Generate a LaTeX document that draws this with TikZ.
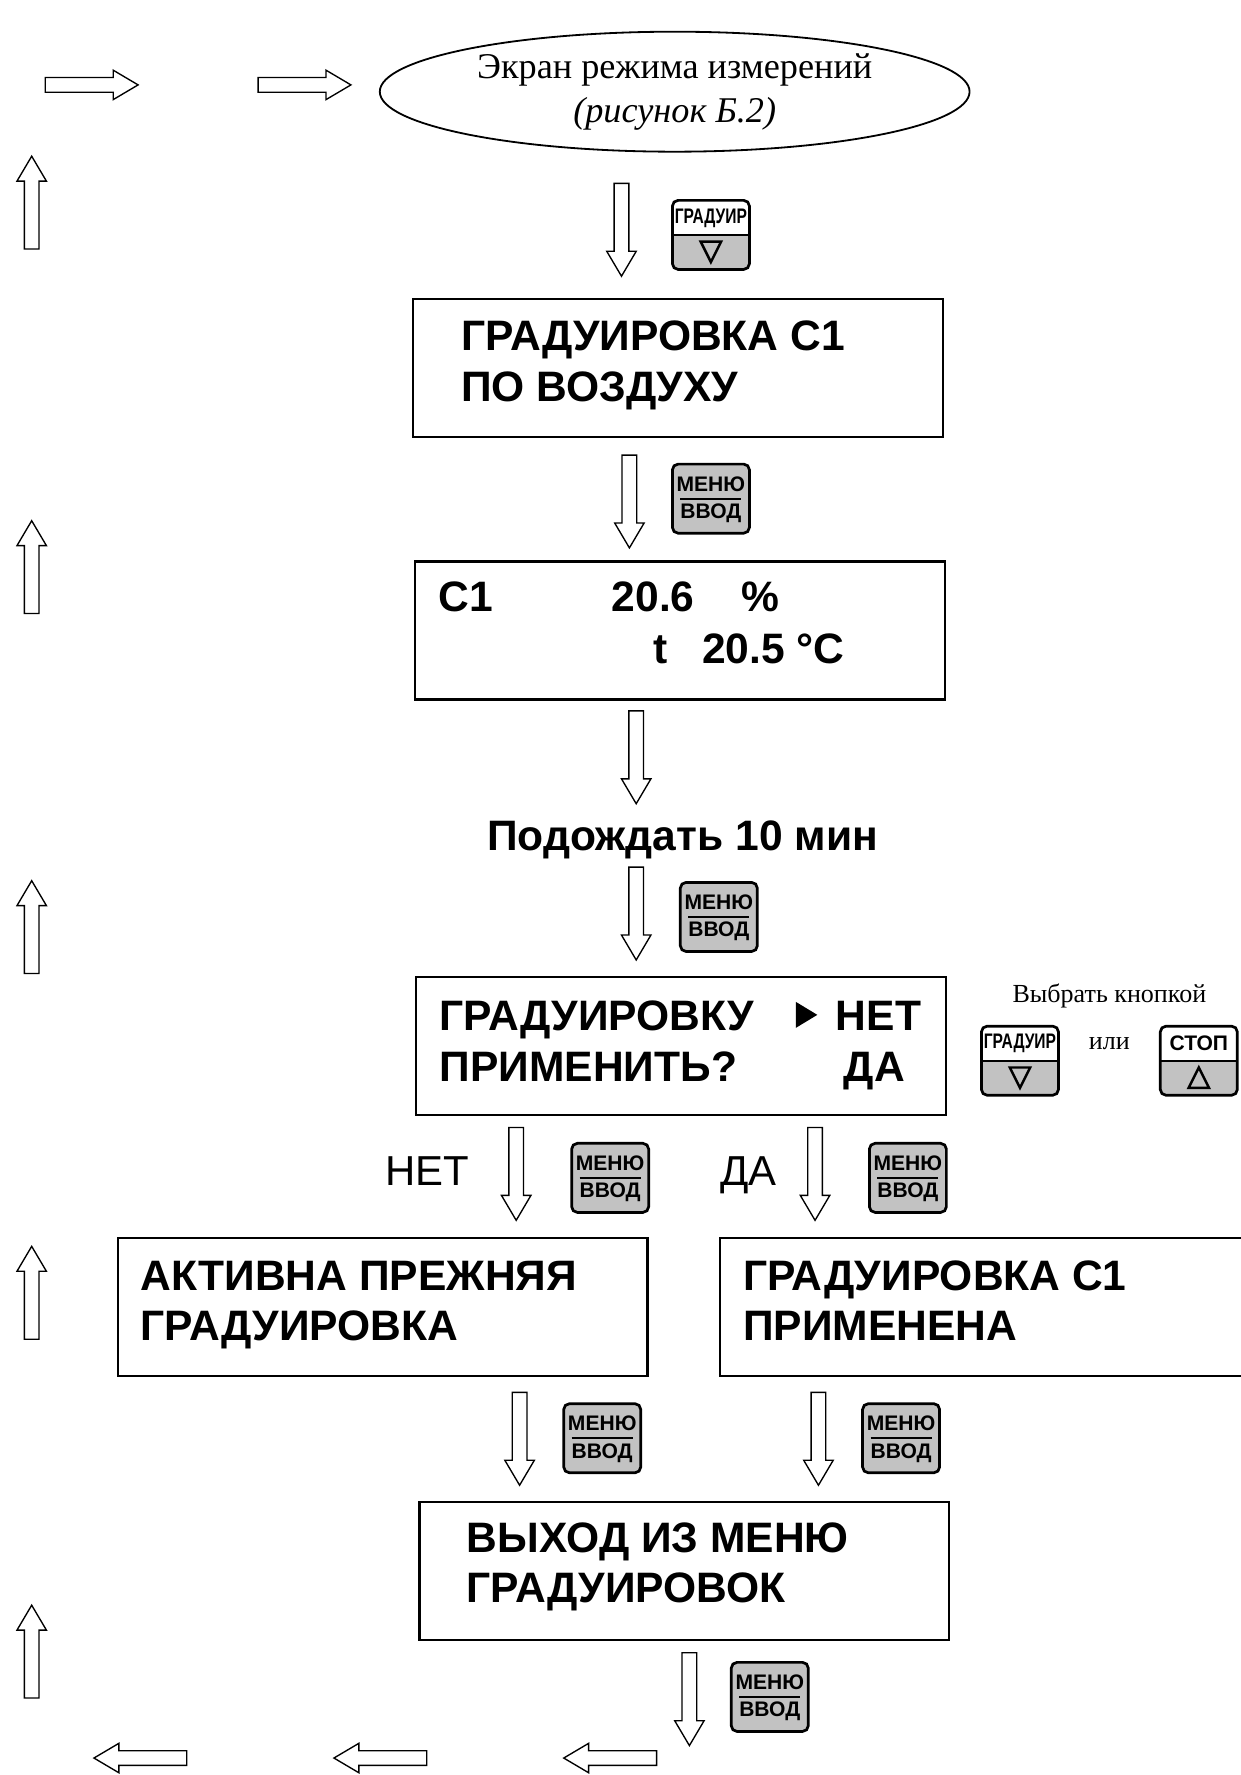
\documentclass[tikz,border=0pt]{standalone}
\usepackage{fontspec}
\usepackage{graphicx}
\setmainfont{Liberation Serif}
\setsansfont{Liberation Sans}
\usetikzlibrary{shapes.geometric}

\definecolor{keygray}{gray}{0.76}

\tikzset{
  screen/.style={draw, line width=1pt, minimum width=234pt, minimum height=61pt, inner sep=0pt},
  lcd/.style={font=\sffamily\bfseries\fontsize{18.8}{22}\selectfont, inner sep=0pt, anchor=base west},
  plainlbl/.style={font=\sffamily\fontsize{18.5}{22}\selectfont, inner sep=0pt, anchor=base west},
  serif/.style={font=\fontsize{16}{20}\selectfont, inner sep=0pt, anchor=base},
  serifsmall/.style={font=\fontsize{11.5}{13}\selectfont, inner sep=0pt},
  fatline/.style={line width=0.6pt, fill=white},
  keyframe/.style={line width=1.2pt, rounded corners=2.5pt},
  keyfont/.style={font=\sffamily\bfseries\fontsize{9.3}{10}\selectfont, inner sep=0pt},
  pics/fatarrow/.style={code={
    \draw[fatline] (0,-6.5) -- (60,-6.5) -- (60,-13) -- (82,0) -- (60,13) -- (60,6.5) -- (0,6.5) -- cycle;
  }},
  pics/menukey/.style={code={
    \draw[keyframe, fill=keygray] (-34,-30.5) rectangle (34,30.5);
    \node[keyfont] (-top) at (0,-13) {МЕНЮ};
    \node[keyfont] (-bot) at (0,13) {ВВОД};
    \draw[line width=1pt] (-27,0) -- (27,0);
  }},
  pics/gradkey/.style={code={
    \begin{scope}
      \clip[rounded corners=2.5pt] (-34,-30.5) rectangle (34,30.5);
      \fill[keygray] (-34,0) rectangle (34,30.5);
    \end{scope}
    \draw[keyframe] (-34,-30.5) rectangle (34,30.5);
    \draw[line width=0.8pt] (-34,0) -- (34,0);
    \node[keyfont] (-top) at (0,-15) {\scalebox{0.74}[1]{ГРАДУИР}};
    \draw[line width=1.1pt] (-9,6) -- (9,6) -- (0,24) -- cycle;
  }},
  pics/stopkey/.style={code={
    \begin{scope}
      \clip[rounded corners=2.5pt] (-34,-30.5) rectangle (34,30.5);
      \fill[keygray] (-34,0) rectangle (34,30.5);
    \end{scope}
    \draw[keyframe] (-34,-30.5) rectangle (34,30.5);
    \draw[line width=0.8pt] (-34,0) -- (34,0);
    \node[keyfont] (-top) at (0,-15) {СТОП};
    \draw[line width=1.1pt] (-9,24) -- (9,24) -- (0,6) -- cycle;
  }}
}

\begin{document}
\begin{tikzpicture}[x=0.5pt, y=-0.5pt, line join=miter]
  \useasboundingbox (0,0) rectangle (1096,1568);
  % start screen
  \node[ellipse, draw, line width=0.8pt, minimum width=260.5pt, minimum height=53pt] (measure) at (596,81) {};
  \node[serif] (measureA) at (596,69) {Экран режима измерений};
  \node[serif] (measureB) at (596,108) {\textit{(рисунок Б.2)}};
  % loop-back arrows
  \foreach \x in {40,228} \pic at (\x,75) {fatarrow};
  \foreach \y in {220,542,860,1183,1500} \pic[rotate=90] at (28,\y) {fatarrow};
  \foreach \x in {165,377,580} \pic[rotate=180] at (\x,1553) {fatarrow};
  % down arrows
  \foreach \x/\y in {549/162,556/402,562/628,562/766,456/996,720/996,459/1230,723/1230,609/1460}
    \pic[rotate=-90] at (\x,\y) {fatarrow};
  % keys
  \pic (kgrad) at (628,207.5) {gradkey};
  \foreach \n/\x/\y in {menuA/628/440.5, menuB/635/810, menuC/539/1040.5, menuD/802/1040.5,
                        menuE/532/1270.5, menuF/796/1270.5, menuG/680/1499}
    \pic (\n) at (\x,\y) {menukey};
  \pic (kselgrad) at (901,937) {gradkey};
  \pic (kstop) at (1059,937) {stopkey};
  \node[serifsmall] (choose) at (980,880) {Выбрать кнопкой};
  \node[serifsmall] (orword) at (980,922) {или};
  % screens
  \node[screen] (calib) at (599,325) {};
  \node[lcd] (calibA) at (407,310) {ГРАДУИРОВКА С1};
  \node[lcd] (calibB) at (407,355) {ПО ВОЗДУХУ};
  \node[screen] (reading) at (600.5,557) {};
  \node[lcd] (readA) at (387,540) {С1};
  \node[lcd] (readB) at (540,540) {20.6};
  \node[lcd] (readC) at (655,540) {\%};
  \node[lcd] (readD) at (577,586) {t};
  \node[lcd] (readE) at (620,586) {20.5 °C};
  \node[lcd, anchor=base] (wait) at (603,751) {Подождать 10 мин};
  \node[screen] (apply) at (601.5,924) {};
  \node[lcd] (applyA) at (388,910) {ГРАДУИРОВКУ};
  \node[lcd] (applyB) at (738,910) {НЕТ};
  \node[lcd] (applyC) at (388,955) {ПРИМЕНИТЬ?};
  \node[lcd] (applyD) at (745,955) {ДА};
  \fill (703,885) -- (722,896.5) -- (703,908) -- cycle;
  % branches
  \node[plainlbl] (no) at (340,1047) {НЕТ};
  \node[plainlbl] (yes) at (636,1047) {ДА};
  \node[screen] (keepold) at (338,1154.5) {};
  \node[lcd] (keepA) at (124,1140) {АКТИВНА ПРЕЖНЯЯ};
  \node[lcd] (keepB) at (124,1184) {ГРАДУИРОВКА};
  \node[screen] (applied) at (870,1154.5) {};
  \node[lcd] (appliedA) at (656,1140) {ГРАДУИРОВКА С1};
  \node[lcd] (appliedB) at (656,1184) {ПРИМЕНЕНА};
  \node[screen] (leave) at (604.5,1387.5) {};
  \node[lcd] (leaveA) at (412,1371) {ВЫХОД ИЗ МЕНЮ};
  \node[lcd] (leaveB) at (412,1416) {ГРАДУИРОВОК};
\end{tikzpicture}
\end{document}
